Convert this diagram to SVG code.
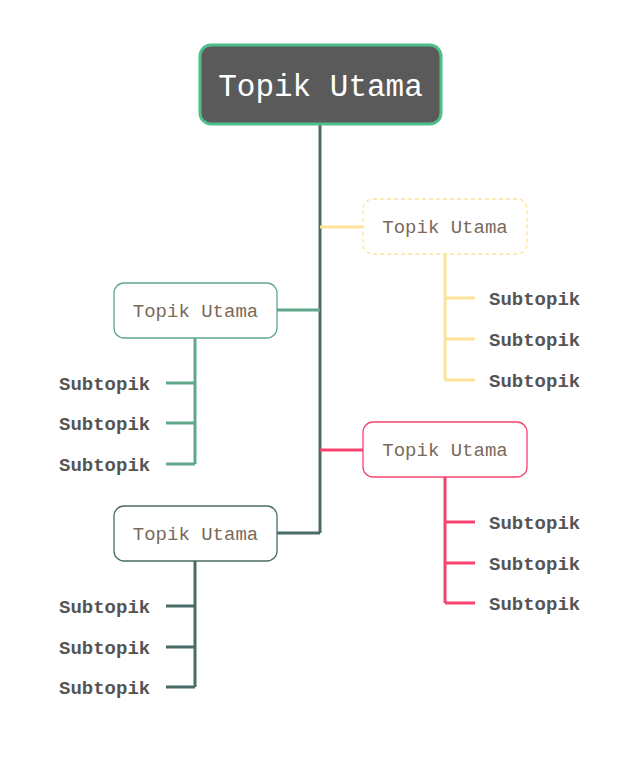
<svg xmlns="http://www.w3.org/2000/svg" width="642" height="762" viewBox="0 0 642 762">
<style>
text{font-family:"Liberation Mono","DejaVu Sans Mono",monospace}
.t{font-size:19px;fill:#7a6a5a;text-anchor:middle}
.s{font-size:19px;fill:#555;font-weight:bold}
.l{fill:none;stroke-width:3}
.node{fill:#fff;stroke-width:1.3}
</style>
<rect width="642" height="762" fill="#fff"/>
<g id="connectors">
<path class="l" stroke="#4a6b66" d="M320,124V533"/>
<path class="l" stroke="#fde39a" d="M320,227H363M445,254V380M445,298H475M445,339H475M445,380H475"/>
<path class="l" stroke="#5fa88a" d="M320,310H277M195,338V464M195,383H166M195,423H166M195,464H166"/>
<path class="l" stroke="#f5436e" d="M320,450H363M445,477V603M445,522H475M445,563H475M445,603H475"/>
<path class="l" stroke="#4a6b66" d="M320,533H277M195,561V687M195,606H166M195,647H166M195,687H166"/>
</g>
<g id="root"><rect x="200" y="45" width="241" height="79" rx="11" fill="#5a5a5a" stroke="#4dbf8a" stroke-width="3"/>
<text x="320.5" y="96" font-size="31" fill="#fff" text-anchor="middle">Topik Utama</text></g>
<g id="n1"><rect class="node" x="363" y="199" width="164" height="55" rx="10" stroke="#fde39a" stroke-dasharray="4,3"/><text class="t" x="445" y="233">Topik Utama</text></g>
<g id="n2"><rect class="node" x="114" y="283" width="163" height="55" rx="10" stroke="#5fa88a"/><text class="t" x="195.5" y="317">Topik Utama</text></g>
<g id="n3"><rect class="node" x="363" y="422" width="164" height="55" rx="10" stroke="#f5436e"/><text class="t" x="445" y="456">Topik Utama</text></g>
<g id="n4"><rect class="node" x="114" y="506" width="163" height="55" rx="10" stroke="#4a6b66"/><text class="t" x="195.5" y="540">Topik Utama</text></g>
<g id="subs">
<text class="s" x="489" y="305">Subtopik</text><text class="s" x="489" y="346">Subtopik</text><text class="s" x="489" y="387">Subtopik</text>
<text class="s" x="59" y="390">Subtopik</text><text class="s" x="59" y="430">Subtopik</text><text class="s" x="59" y="471">Subtopik</text>
<text class="s" x="489" y="529">Subtopik</text><text class="s" x="489" y="570">Subtopik</text><text class="s" x="489" y="610">Subtopik</text>
<text class="s" x="59" y="613">Subtopik</text><text class="s" x="59" y="654">Subtopik</text><text class="s" x="59" y="694">Subtopik</text>
</g>
</svg>
